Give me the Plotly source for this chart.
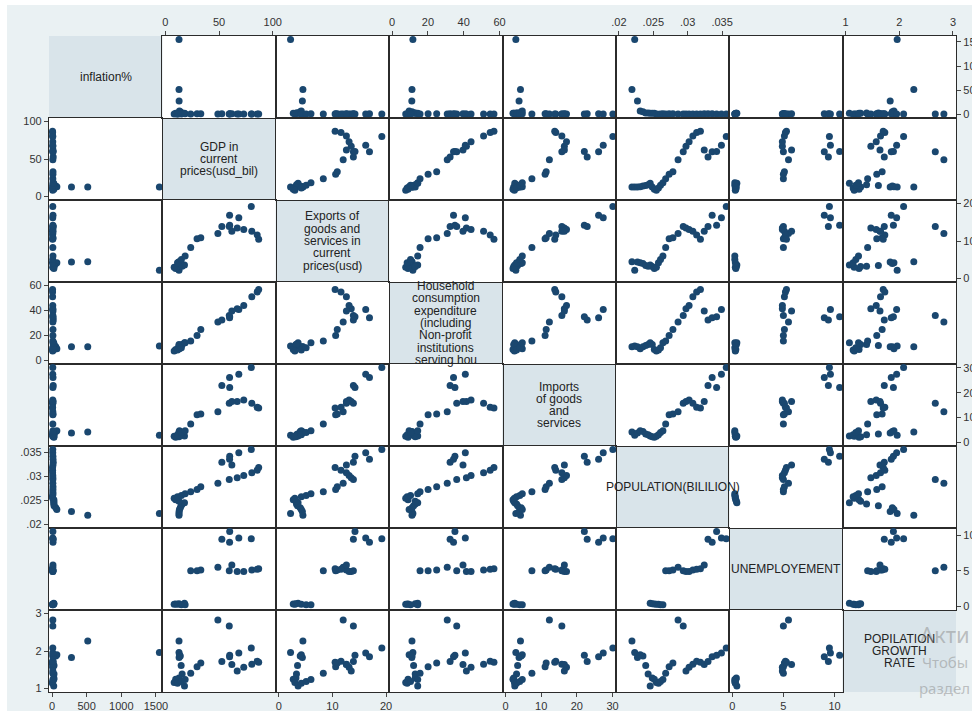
import plotly.graph_objects as go
from plotly.subplots import make_subplots

# ---- data: one observation per year, 1993-2022 ----
years = list(range(1993, 2023))

inflation = [516, 1550, 281, 70, 55, 29, 29, 25, 27, 27, 10, 7, 10, 14, 12,
             13, 14, 12, 12, 12, 11, 9, 8.5, 8, 14, 17.5, 14.5, 12.9, 10.8, 11.4]
gdp = [12.7, 12.7, 12.8, 13.1, 13.9, 14.7, 15.6, 17.8, 12.7, 9.6, 8.2, 11.3,
       14.9, 18.4, 23.6, 29.5, 33.0, 48.9, 59.5, 66.9, 73.0, 80.5, 85.5, 86.9,
       61.9, 52.6, 59.8, 59.9, 68.4, 80.0]
exports = [4.5, 2.2, 4.4, 4.2, 4.0, 3.5, 3.3, 3.6, 3.2, 2.7, 3.0, 4.2, 5.1,
           6.0, 8.3, 10.6, 10.9, 12.0, 13.9, 13.5, 13.1, 12.6, 11.6, 10.5,
           12.6, 13.9, 16.9, 14.2, 16.2, 19.2]
household = [11.1, 11.6, 11.0, 9.5, 11.1, 12.0, 12.9, 14.3, 12.9, 8.9, 7.6,
             8.4, 10.3, 14.3, 15.6, 20.1, 24.9, 30.8, 36.1, 41.5, 44.1, 51.1,
             54.8, 56.9, 39.6, 32.4, 34.3, 35.1, 40.9, None]
imports = [4.2, 2.9, 3.8, 4.7, 4.4, 3.4, 3.1, 2.6, 2.3, 2.1, 2.5, 3.1, 4.0,
           4.7, 7.4, 11.1, 11.4, 12.3, 15.8, 16.5, 17.1, 15.8, 14.1, 13.8,
           16.5, 22.9, 26.1, 22.1, 27.4, 30.1]
population = [0.0219, 0.0223, 0.0227, 0.0231, 0.0235, 0.0239, 0.02425,
              0.02455, 0.02485, 0.02515, 0.02545, 0.02575, 0.02605, 0.0264,
              0.0268, 0.0273, 0.02785, 0.0286, 0.02935, 0.02975, 0.0302,
              0.03075, 0.0313, 0.03185, 0.0324, 0.03295, 0.03355, 0.0342,
              0.0349, 0.0356]
unemployment = [None, None, None, None, None, None, None,
                0.45, 0.4, 0.35, 0.3, 0.3, 0.25, 0.25,
                5.0, 5.0, 5.1, 5.5, 5.0, 4.9, 4.9, 5.1, 5.2, 5.3, 5.8,
                9.4, 9.0, 10.5, 9.6, 9.5]
pop_growth = [2.27, 1.96, 1.83, 1.90, 1.87, 1.61, 1.39, 1.07, 1.28, 1.25,
              1.16, 1.14, 1.19, 1.24, 1.41, 1.58, 1.68, 2.83, 2.67, 1.47,
              1.57, 1.65, 1.73, 1.70, 1.64, 1.72, 1.85, 1.89, 1.95, 2.08]

# ---- diagonal labels (one entry per line) ----
labels = [
    ["inflation%"],
    ["GDP in", "current", "prices(usd_bil)"],
    ["Exports of", "goods and", "services in", "current", "prices(usd)"],
    ["Household", "consumption", "expenditure", "(including", "Non-profit",
     "institutions", "serving hou"],
    ["Imports", "of goods", "and", "services"],
    ["POPULATION(BILILION)"],
    ["UNEMPLOYEMENT"],
    ["POPILATION", "GROWTH", "RATE"],
]

# ---- axis ticks ----
tick_values = [
    [0, 500, 1000, 1500],
    [0, 50, 100],
    [0, 10, 20],
    [0, 20, 40, 60],
    [0, 10, 20, 30],
    [0.02, 0.025, 0.03, 0.035],
    [0, 5, 10],
    [1, 2, 3],
]
tick_text = [
    ["0", "500", "1000", "1500"],
    ["0", "50", "100"],
    ["0", "10", "20"],
    ["0", "20", "40", "60"],
    ["0", "10", "20", "30"],
    [".02", ".025", ".03", ".035"],
    ["0", "5", "10"],
    ["1", "2", "3"],
]

series = [inflation, gdp, exports, household, imports, population,
          unemployment, pop_growth]
n = len(series)

# ---- geometry / style ----
W, H = 972, 711
ML, MR, MT, MB = 49, 16, 36, 19
PW, PH = W - ML - MR, H - MT - MB
cell_w = PW / n
cell_h = PH / n
PAD_X, PAD_Y = 3.0, 3.5

NAVY = "#1a476f"
OUTER_BG = "#eaf1f3"
DIAG_BG = "#d9e4ea"
BORDER = "#2b2b2b"
FONT = "Arial, Liberation Sans, sans-serif"


def axis_range(vals, ticks, px, pad_px):
    v = [a for a in vals if a is not None]
    lo = min(min(v), ticks[0])
    hi = max(max(v), ticks[-1])
    pad = (hi - lo) * pad_px / (px - 2 * pad_px)
    return [lo - pad, hi + pad]


x_ranges = [axis_range(s, t, cell_w, PAD_X) for s, t in zip(series, tick_values)]
y_ranges = [axis_range(s, t, cell_h, PAD_Y) for s, t in zip(series, tick_values)]

fig = make_subplots(rows=n, cols=n, horizontal_spacing=0, vertical_spacing=0)

for i in range(n):          # row -> y variable
    for j in range(n):      # column -> x variable
        if i == j:
            continue
        xs, ys = [], []
        for a, b in zip(series[j], series[i]):
            if a is None or b is None:
                continue
            xs.append(a)
            ys.append(b)
        fig.add_trace(
            go.Scatter(x=xs, y=ys, mode="markers",
                       marker=dict(color=NAVY, size=7, line=dict(width=0)),
                       cliponaxis=False, showlegend=False, hoverinfo="skip"),
            row=i + 1, col=j + 1)

base_axis = dict(showgrid=False, zeroline=False, showline=True, mirror=True,
                 linecolor=BORDER, linewidth=1.3, ticks="", showticklabels=False,
                 fixedrange=True, automargin=False,
                 tickfont=dict(family=FONT, size=11, color="#333333"),
                 tickcolor="#444444", ticklen=4, tickwidth=1)

axis_updates = {}
for i in range(n):
    for j in range(n):
        k = i * n + j + 1
        xa = dict(base_axis, range=x_ranges[j],
                  domain=[j / n, (j + 1) / n])
        ya = dict(base_axis, range=y_ranges[i],
                  domain=[1 - (i + 1) / n, 1 - i / n])
        # column ticks alternate: bottom for odd columns, top for even ones
        if j % 2 == 0 and i == n - 1:
            xa.update(side="bottom", ticks="outside", showticklabels=True,
                      tickvals=tick_values[j], ticktext=tick_text[j])
        if j % 2 == 1 and i == 0:
            xa.update(side="top", ticks="outside", showticklabels=True,
                      tickvals=tick_values[j], ticktext=tick_text[j])
        # row ticks alternate: right for odd rows, left for even ones
        if i % 2 == 0 and j == n - 1:
            ya.update(side="right", ticks="outside", showticklabels=True,
                      tickvals=tick_values[i], ticktext=tick_text[i])
        if i % 2 == 1 and j == 0:
            ya.update(side="left", ticks="outside", showticklabels=True,
                      tickvals=tick_values[i], ticktext=tick_text[i])
        suffix = "" if k == 1 else str(k)
        axis_updates["xaxis" + suffix] = xa
        axis_updates["yaxis" + suffix] = ya
fig.update_layout(**axis_updates)

shapes = []
annotations = []

px2x = lambda px: (px - ML) / PW
px2y = lambda py: (H - MB - py) / PH

# white strips along the top and left page edges
shapes.append(dict(type="rect", xref="paper", yref="paper", layer="below",
                   x0=px2x(-5), x1=px2x(7), y0=px2y(H + 5), y1=px2y(-5),
                   fillcolor="white", line=dict(width=0)))
shapes.append(dict(type="rect", xref="paper", yref="paper", layer="below",
                   x0=px2x(-5), x1=px2x(W + 5), y0=px2y(5), y1=px2y(-5),
                   fillcolor="white", line=dict(width=0)))

LINE_H = 12.3
for d in range(n):
    x0 = d / n
    y1 = 1 - d / n
    shapes.append(dict(type="rect", xref="paper", yref="paper", layer="below",
                       x0=x0, x1=x0 + 1 / n, y0=y1 - 1 / n, y1=y1,
                       fillcolor=DIAG_BG, line=dict(width=0)))
    lines = labels[d]
    m = len(lines)
    for li, text in enumerate(lines):
        annotations.append(dict(
            text=text, xref="paper", yref="paper",
            x=x0 + 0.5 / n,
            y=y1 - 0.5 / n + ((m - 1) / 2 - li) * LINE_H / PH,
            xanchor="center", yanchor="middle", showarrow=False,
            font=dict(family=FONT, size=12, color="#222222")))

# faint system watermark showing through at the lower right
for text, px, py, size in [("Акти", 918, 634, 22),
                           ("Чтобы", 920, 662, 15),
                           ("раздел", 917, 688, 15)]:
    annotations.append(dict(text=text, xref="paper", yref="paper",
                            x=px2x(px), y=px2y(py), xanchor="left",
                            yanchor="middle", showarrow=False,
                            font=dict(family="Noto Sans, sans-serif",
                                      size=size, color="rgba(140,140,140,0.5)")))

fig.update_layout(
    width=W, height=H,
    margin=dict(l=ML, r=MR, t=MT, b=MB, pad=0, autoexpand=False),
    paper_bgcolor=OUTER_BG, plot_bgcolor="white",
    shapes=shapes, annotations=annotations,
    showlegend=False,
    font=dict(family=FONT),
)

fig.write_html("out.html")
